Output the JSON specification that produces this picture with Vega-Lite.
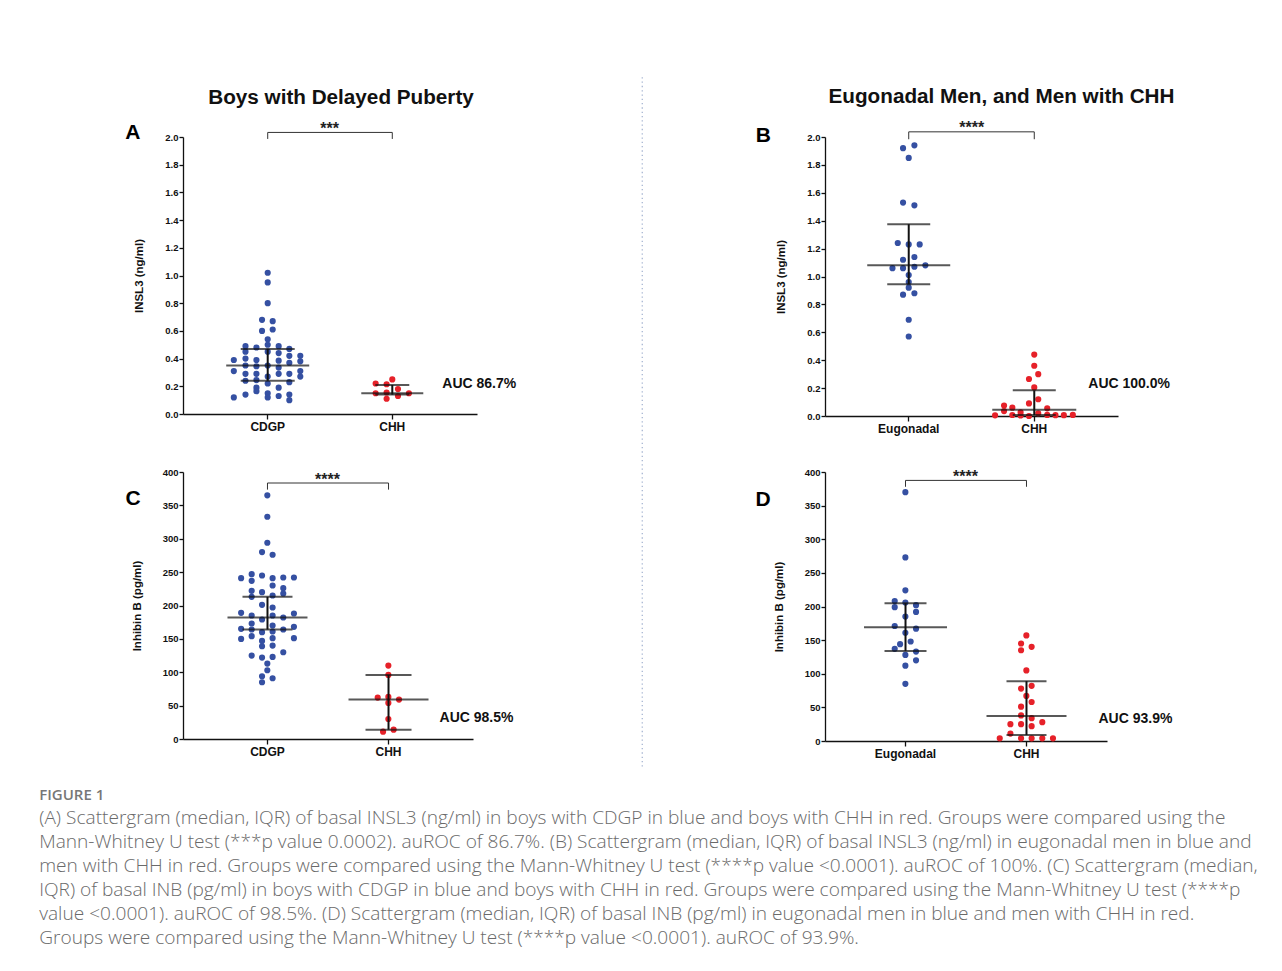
{
  "$schema": "https://vega.github.io/schema/vega-lite/v6.json",
  "padding": {"left": 39, "top": 76, "right": 10, "bottom": 10},
  "background": "white",
  "datasets": {
    "points": [
      {"panel":"A","group":"CDGP","jitter":0,"value":1.02},{"panel":"A","group":"CDGP","jitter":0,"value":0.95},{"panel":"A","group":"CDGP","jitter":0,"value":0.80},
      {"panel":"A","group":"CDGP","jitter":-0.57,"value":0.68},{"panel":"A","group":"CDGP","jitter":0.5,"value":0.67},{"panel":"A","group":"CDGP","jitter":-0.57,"value":0.60},
      {"panel":"A","group":"CDGP","jitter":0.5,"value":0.61},{"panel":"A","group":"CDGP","jitter":0,"value":0.54},{"panel":"A","group":"CDGP","jitter":-2.23,"value":0.49},
      {"panel":"A","group":"CDGP","jitter":-1.13,"value":0.48},{"panel":"A","group":"CDGP","jitter":0,"value":0.50},{"panel":"A","group":"CDGP","jitter":1.1,"value":0.49},
      {"panel":"A","group":"CDGP","jitter":2.17,"value":0.47},{"panel":"A","group":"CDGP","jitter":-2.23,"value":0.45},{"panel":"A","group":"CDGP","jitter":1.1,"value":0.44},
      {"panel":"A","group":"CDGP","jitter":0,"value":0.45},{"panel":"A","group":"CDGP","jitter":2.17,"value":0.42},{"panel":"A","group":"CDGP","jitter":3.27,"value":0.42},
      {"panel":"A","group":"CDGP","jitter":-2.23,"value":0.40},{"panel":"A","group":"CDGP","jitter":-1.13,"value":0.39},{"panel":"A","group":"CDGP","jitter":-3.4,"value":0.39},
      {"panel":"A","group":"CDGP","jitter":1.1,"value":0.385},{"panel":"A","group":"CDGP","jitter":3.27,"value":0.38},{"panel":"A","group":"CDGP","jitter":2.17,"value":0.37},
      {"panel":"A","group":"CDGP","jitter":-2.23,"value":0.35},{"panel":"A","group":"CDGP","jitter":-1.13,"value":0.345},{"panel":"A","group":"CDGP","jitter":0,"value":0.35},
      {"panel":"A","group":"CDGP","jitter":1.1,"value":0.335},{"panel":"A","group":"CDGP","jitter":-3.4,"value":0.31},{"panel":"A","group":"CDGP","jitter":3.27,"value":0.31},
      {"panel":"A","group":"CDGP","jitter":-2.23,"value":0.29},{"panel":"A","group":"CDGP","jitter":-1.13,"value":0.29},{"panel":"A","group":"CDGP","jitter":1.1,"value":0.29},
      {"panel":"A","group":"CDGP","jitter":2.17,"value":0.29},{"panel":"A","group":"CDGP","jitter":-1.13,"value":0.245},{"panel":"A","group":"CDGP","jitter":0,"value":0.27},
      {"panel":"A","group":"CDGP","jitter":3.27,"value":0.27},{"panel":"A","group":"CDGP","jitter":-2.23,"value":0.24},{"panel":"A","group":"CDGP","jitter":0,"value":0.22},
      {"panel":"A","group":"CDGP","jitter":2.17,"value":0.23},{"panel":"A","group":"CDGP","jitter":-1.13,"value":0.19},{"panel":"A","group":"CDGP","jitter":1.1,"value":0.19},
      {"panel":"A","group":"CDGP","jitter":-1.13,"value":0.165},{"panel":"A","group":"CDGP","jitter":0,"value":0.15},{"panel":"A","group":"CDGP","jitter":-2.23,"value":0.14},
      {"panel":"A","group":"CDGP","jitter":2.17,"value":0.14},{"panel":"A","group":"CDGP","jitter":1.1,"value":0.13},{"panel":"A","group":"CDGP","jitter":-3.4,"value":0.12},
      {"panel":"A","group":"CDGP","jitter":0,"value":0.12},{"panel":"A","group":"CDGP","jitter":2.17,"value":0.10},
      {"panel":"A","group":"CHH","jitter":0,"value":0.25},{"panel":"A","group":"CHH","jitter":-1.67,"value":0.22},{"panel":"A","group":"CHH","jitter":-0.57,"value":0.215},
      {"panel":"A","group":"CHH","jitter":0.57,"value":0.18},{"panel":"A","group":"CHH","jitter":-1.67,"value":0.15},{"panel":"A","group":"CHH","jitter":-0.57,"value":0.155},
      {"panel":"A","group":"CHH","jitter":1.67,"value":0.15},{"panel":"A","group":"CHH","jitter":0.57,"value":0.13},{"panel":"A","group":"CHH","jitter":-0.57,"value":0.11},

      {"panel":"B","group":"Eugonadal","jitter":-0.57,"value":1.92},{"panel":"B","group":"Eugonadal","jitter":0.57,"value":1.94},{"panel":"B","group":"Eugonadal","jitter":0,"value":1.85},
      {"panel":"B","group":"Eugonadal","jitter":-0.57,"value":1.53},{"panel":"B","group":"Eugonadal","jitter":0.57,"value":1.51},{"panel":"B","group":"Eugonadal","jitter":-1.1,"value":1.24},
      {"panel":"B","group":"Eugonadal","jitter":0,"value":1.23},{"panel":"B","group":"Eugonadal","jitter":1.1,"value":1.23},{"panel":"B","group":"Eugonadal","jitter":-0.57,"value":1.12},
      {"panel":"B","group":"Eugonadal","jitter":0.57,"value":1.14},{"panel":"B","group":"Eugonadal","jitter":-1.63,"value":1.06},{"panel":"B","group":"Eugonadal","jitter":-0.57,"value":1.06},
      {"panel":"B","group":"Eugonadal","jitter":0.57,"value":1.07},{"panel":"B","group":"Eugonadal","jitter":1.67,"value":1.08},{"panel":"B","group":"Eugonadal","jitter":0,"value":1.01},
      {"panel":"B","group":"Eugonadal","jitter":0,"value":0.96},{"panel":"B","group":"Eugonadal","jitter":0,"value":0.92},{"panel":"B","group":"Eugonadal","jitter":-0.57,"value":0.87},
      {"panel":"B","group":"Eugonadal","jitter":0.57,"value":0.88},{"panel":"B","group":"Eugonadal","jitter":0,"value":0.69},{"panel":"B","group":"Eugonadal","jitter":0,"value":0.57},
      {"panel":"B","group":"CHH","jitter":0,"value":0.44},{"panel":"B","group":"CHH","jitter":0,"value":0.36},{"panel":"B","group":"CHH","jitter":0.4,"value":0.30},
      {"panel":"B","group":"CHH","jitter":-0.53,"value":0.265},{"panel":"B","group":"CHH","jitter":0,"value":0.205},{"panel":"B","group":"CHH","jitter":0.4,"value":0.12},
      {"panel":"B","group":"CHH","jitter":-0.53,"value":0.09},{"panel":"B","group":"CHH","jitter":-3.03,"value":0.075},{"panel":"B","group":"CHH","jitter":-2.2,"value":0.06},
      {"panel":"B","group":"CHH","jitter":1.3,"value":0.055},{"panel":"B","group":"CHH","jitter":-3.03,"value":0.035},{"panel":"B","group":"CHH","jitter":-1.37,"value":0.026},
      {"panel":"B","group":"CHH","jitter":0.4,"value":0.02},{"panel":"B","group":"CHH","jitter":-3.93,"value":0.005},{"panel":"B","group":"CHH","jitter":-2.2,"value":0.007},
      {"panel":"B","group":"CHH","jitter":-0.53,"value":0.0},{"panel":"B","group":"CHH","jitter":-1.37,"value":0.004},{"panel":"B","group":"CHH","jitter":1.3,"value":0.008},
      {"panel":"B","group":"CHH","jitter":2.13,"value":0.006},{"panel":"B","group":"CHH","jitter":2.97,"value":0.006},{"panel":"B","group":"CHH","jitter":3.87,"value":0.008},

      {"panel":"C","group":"CDGP","jitter":0,"value":365},{"panel":"C","group":"CDGP","jitter":0,"value":333},{"panel":"C","group":"CDGP","jitter":0,"value":294},
      {"panel":"C","group":"CDGP","jitter":-0.53,"value":280},{"panel":"C","group":"CDGP","jitter":0.53,"value":276},{"panel":"C","group":"CDGP","jitter":-2.63,"value":241},
      {"panel":"C","group":"CDGP","jitter":-1.57,"value":247},{"panel":"C","group":"CDGP","jitter":-0.53,"value":245},{"panel":"C","group":"CDGP","jitter":0.53,"value":241},
      {"panel":"C","group":"CDGP","jitter":1.6,"value":242},{"panel":"C","group":"CDGP","jitter":2.67,"value":242},{"panel":"C","group":"CDGP","jitter":-1.57,"value":237},
      {"panel":"C","group":"CDGP","jitter":-1.57,"value":222},{"panel":"C","group":"CDGP","jitter":-0.53,"value":220},{"panel":"C","group":"CDGP","jitter":0.53,"value":230},
      {"panel":"C","group":"CDGP","jitter":1.6,"value":226},{"panel":"C","group":"CDGP","jitter":1.6,"value":218},{"panel":"C","group":"CDGP","jitter":-1.57,"value":213},
      {"panel":"C","group":"CDGP","jitter":0.53,"value":215},{"panel":"C","group":"CDGP","jitter":-0.53,"value":201},{"panel":"C","group":"CDGP","jitter":0.53,"value":197},
      {"panel":"C","group":"CDGP","jitter":-2.63,"value":189},{"panel":"C","group":"CDGP","jitter":2.67,"value":188},{"panel":"C","group":"CDGP","jitter":-1.57,"value":185},
      {"panel":"C","group":"CDGP","jitter":0.53,"value":185},{"panel":"C","group":"CDGP","jitter":1.6,"value":182},{"panel":"C","group":"CDGP","jitter":-0.53,"value":179},
      {"panel":"C","group":"CDGP","jitter":-1.57,"value":173},{"panel":"C","group":"CDGP","jitter":0.53,"value":170},{"panel":"C","group":"CDGP","jitter":2.67,"value":168},
      {"panel":"C","group":"CDGP","jitter":-2.63,"value":165},{"panel":"C","group":"CDGP","jitter":-1.57,"value":164},{"panel":"C","group":"CDGP","jitter":1.6,"value":164},
      {"panel":"C","group":"CDGP","jitter":-0.53,"value":160},{"panel":"C","group":"CDGP","jitter":0.53,"value":161},{"panel":"C","group":"CDGP","jitter":-2.63,"value":150},
      {"panel":"C","group":"CDGP","jitter":-1.57,"value":154},{"panel":"C","group":"CDGP","jitter":0.53,"value":151},{"panel":"C","group":"CDGP","jitter":2.67,"value":151},
      {"panel":"C","group":"CDGP","jitter":-0.53,"value":147},{"panel":"C","group":"CDGP","jitter":-0.53,"value":139},{"panel":"C","group":"CDGP","jitter":0.53,"value":140},
      {"panel":"C","group":"CDGP","jitter":1.6,"value":130},{"panel":"C","group":"CDGP","jitter":-1.57,"value":125},{"panel":"C","group":"CDGP","jitter":-0.53,"value":122},
      {"panel":"C","group":"CDGP","jitter":0.53,"value":123},{"panel":"C","group":"CDGP","jitter":0,"value":113},{"panel":"C","group":"CDGP","jitter":0,"value":103},
      {"panel":"C","group":"CDGP","jitter":-0.53,"value":94},{"panel":"C","group":"CDGP","jitter":0.53,"value":91},{"panel":"C","group":"CDGP","jitter":-0.53,"value":85},
      {"panel":"C","group":"CHH","jitter":0,"value":110},{"panel":"C","group":"CHH","jitter":0,"value":96},{"panel":"C","group":"CHH","jitter":-1.07,"value":62},
      {"panel":"C","group":"CHH","jitter":0,"value":63},{"panel":"C","group":"CHH","jitter":1.07,"value":59},{"panel":"C","group":"CHH","jitter":0,"value":54},
      {"panel":"C","group":"CHH","jitter":0,"value":30},{"panel":"C","group":"CHH","jitter":-0.53,"value":11},{"panel":"C","group":"CHH","jitter":0.53,"value":14},

      {"panel":"D","group":"Eugonadal","jitter":0,"value":370},{"panel":"D","group":"Eugonadal","jitter":0,"value":273},{"panel":"D","group":"Eugonadal","jitter":0,"value":224},
      {"panel":"D","group":"Eugonadal","jitter":-1.07,"value":208},{"panel":"D","group":"Eugonadal","jitter":0,"value":206},{"panel":"D","group":"Eugonadal","jitter":1.07,"value":202},
      {"panel":"D","group":"Eugonadal","jitter":-1.07,"value":199},{"panel":"D","group":"Eugonadal","jitter":1.07,"value":192},{"panel":"D","group":"Eugonadal","jitter":0,"value":185},
      {"panel":"D","group":"Eugonadal","jitter":-1.07,"value":171},{"panel":"D","group":"Eugonadal","jitter":1.07,"value":167},{"panel":"D","group":"Eugonadal","jitter":0,"value":161},
      {"panel":"D","group":"Eugonadal","jitter":-0.53,"value":144},{"panel":"D","group":"Eugonadal","jitter":0.53,"value":148},{"panel":"D","group":"Eugonadal","jitter":-1.07,"value":137},
      {"panel":"D","group":"Eugonadal","jitter":1.07,"value":133},{"panel":"D","group":"Eugonadal","jitter":0,"value":128},{"panel":"D","group":"Eugonadal","jitter":1.07,"value":120},
      {"panel":"D","group":"Eugonadal","jitter":0,"value":112},{"panel":"D","group":"Eugonadal","jitter":0,"value":85},
      {"panel":"D","group":"CHH","jitter":0,"value":157},{"panel":"D","group":"CHH","jitter":-0.53,"value":145},{"panel":"D","group":"CHH","jitter":0.53,"value":140},
      {"panel":"D","group":"CHH","jitter":-0.53,"value":135},{"panel":"D","group":"CHH","jitter":0,"value":105},{"panel":"D","group":"CHH","jitter":-0.53,"value":78},
      {"panel":"D","group":"CHH","jitter":0.53,"value":82},{"panel":"D","group":"CHH","jitter":0,"value":67},{"panel":"D","group":"CHH","jitter":-0.53,"value":51},
      {"panel":"D","group":"CHH","jitter":0.53,"value":58},{"panel":"D","group":"CHH","jitter":-0.53,"value":38},{"panel":"D","group":"CHH","jitter":0.53,"value":34},
      {"panel":"D","group":"CHH","jitter":-1.6,"value":25},{"panel":"D","group":"CHH","jitter":-0.53,"value":25},{"panel":"D","group":"CHH","jitter":1.6,"value":28},
      {"panel":"D","group":"CHH","jitter":0.53,"value":22},{"panel":"D","group":"CHH","jitter":-1.6,"value":11},{"panel":"D","group":"CHH","jitter":-2.67,"value":4},
      {"panel":"D","group":"CHH","jitter":-0.53,"value":4},{"panel":"D","group":"CHH","jitter":0.53,"value":4},{"panel":"D","group":"CHH","jitter":1.6,"value":4},
      {"panel":"D","group":"CHH","jitter":2.67,"value":4}
    ],
    "summary": [
      {"panel":"A","group":"CDGP","median":0.35,"q1":0.24,"q3":0.47},
      {"panel":"A","group":"CHH","median":0.15,"q1":0.14,"q3":0.21},
      {"panel":"B","group":"Eugonadal","median":1.08,"q1":0.945,"q3":1.375},
      {"panel":"B","group":"CHH","median":0.045,"q1":0.007,"q3":0.184},
      {"panel":"C","group":"CDGP","median":182,"q1":164,"q3":213},
      {"panel":"C","group":"CHH","median":59,"q1":14,"q3":96},
      {"panel":"D","group":"Eugonadal","median":169,"q1":134,"q3":205},
      {"panel":"D","group":"CHH","median":37,"q1":9,"q3":89}
    ],
    "brackets": [
      {"panel":"A","group":"CDGP","step":1,"y":1.986},{"panel":"A","group":"CDGP","step":2,"y":2.033},{"panel":"A","group":"CHH","step":3,"y":2.033},{"panel":"A","group":"CHH","step":4,"y":1.986},
      {"panel":"B","group":"Eugonadal","step":1,"y":1.984},{"panel":"B","group":"Eugonadal","step":2,"y":2.037},{"panel":"B","group":"CHH","step":3,"y":2.037},{"panel":"B","group":"CHH","step":4,"y":1.984},
      {"panel":"C","group":"CDGP","step":1,"y":373.6},{"panel":"C","group":"CDGP","step":2,"y":383.5},{"panel":"C","group":"CHH","step":3,"y":383.5},{"panel":"C","group":"CHH","step":4,"y":373.6},
      {"panel":"D","group":"Eugonadal","step":1,"y":378},{"panel":"D","group":"Eugonadal","step":2,"y":387.5},{"panel":"D","group":"CHH","step":3,"y":387.5},{"panel":"D","group":"CHH","step":4,"y":378}
    ],
    "divider": [
      {"group":"Eugonadal","offset":-26.4,"top":987,"bottom":-38}
    ],
    "notes": [
      {"panel":"A","kind":"letter","group":"CDGP","y":2.03,"label":"A"},
      {"panel":"A","kind":"sig","group":"CDGP","y":2.024,"label":"***"},
      {"panel":"A","kind":"auc","group":"CHH","y":0.217,"label":"AUC 86.7%"},
      {"panel":"B","kind":"letter","group":"Eugonadal","y":2.01,"label":"B"},
      {"panel":"B","kind":"sig","group":"Eugonadal","y":2.031,"label":"****"},
      {"panel":"B","kind":"auc","group":"CHH","y":0.23,"label":"AUC 100.0%"},
      {"panel":"C","kind":"letter","group":"CDGP","y":359,"label":"C"},
      {"panel":"C","kind":"sig","group":"CDGP","y":380,"label":"****"},
      {"panel":"C","kind":"auc","group":"CHH","y":31,"label":"AUC 98.5%"},
      {"panel":"D","kind":"letter","group":"Eugonadal","y":358,"label":"D"},
      {"panel":"D","kind":"sig","group":"Eugonadal","y":384.5,"label":"****"},
      {"panel":"D","kind":"auc","group":"CHH","y":33,"label":"AUC 93.9%"}
    ]
  },
  "title": {
    "text": "FIGURE 1",
    "subtitle": [
      "(A) Scattergram (median, IQR) of basal INSL3 (ng/ml) in boys with CDGP in blue and boys with CHH in red. Groups were compared using the",
      "Mann-Whitney U test (***p value 0.0002). auROC of 86.7%. (B) Scattergram (median, IQR) of basal INSL3 (ng/ml) in eugonadal men in blue and",
      "men with CHH in red. Groups were compared using the Mann-Whitney U test (****p value <0.0001). auROC of 100%. (C) Scattergram (median,",
      "IQR) of basal INB (pg/ml) in boys with CDGP in blue and boys with CHH in red. Groups were compared using the Mann-Whitney U test (****p",
      "value <0.0001). auROC of 98.5%. (D) Scattergram (median, IQR) of basal INB (pg/ml) in eugonadal men in blue and men with CHH in red.",
      "Groups were compared using the Mann-Whitney U test (****p value <0.0001). auROC of 93.9%."
    ],
    "orient": "bottom",
    "anchor": "start",
    "frame": "bounds",
    "dx": -86,
    "offset": 21,
    "font": "Open Sans",
    "fontSize": 15,
    "fontWeight": 600,
    "color": "#777777",
    "subtitleFont": "Open Sans",
    "subtitleFontSize": 19.1,
    "subtitleFontWeight": 300,
    "subtitleColor": "#6a6a6a",
    "subtitleLineHeight": 24,
    "subtitlePadding": 6
  },
  "columns": 2,
  "bounds": "flush",
  "spacing": {"row": 56, "column": 348},
  "concat": [
    {
      "width": 294, "height": 277,
      "title": {"text": "Boys with Delayed Puberty", "dx": 11, "frame": "group", "offset": 12},
      "layer": [
        {"data": {"name": "points"}, "transform": [{"filter": "datum.panel === 'A'"}],
         "mark": {"type": "circle", "size": 38, "opacity": 1},
         "encoding": {
           "x": {"field": "group", "type": "nominal", "scale": {"type": "band", "domain": ["CDGP", "CHH"], "paddingInner": 0.2, "paddingOuter": 0.28}, "axis": {"title": null}},
           "xOffset": {"field": "jitter", "type": "quantitative", "scale": {"domain": [-5, 5]}},
           "y": {"field": "value", "type": "quantitative", "scale": {"domain": [0, 2], "nice": false}, "axis": {"title": "INSL3 (ng/ml)", "values": [0, 0.2, 0.4, 0.6, 0.8, 1, 1.2, 1.4, 1.6, 1.8, 2], "format": ".1f", "labelOverlap": false, "tickCount": 11}},
           "color": {"field": "group", "type": "nominal", "scale": {"domain": ["CDGP", "CHH"], "range": ["#3550a2", "#e62129"]}, "legend": null}
         }},
        {"data": {"name": "summary"}, "transform": [{"filter": "datum.panel === 'A'"}],
         "mark": {"type": "rule", "color": "#111111", "strokeWidth": 2},
         "encoding": {"x": {"field": "group", "type": "nominal"}, "y": {"field": "q1", "type": "quantitative"}, "y2": {"field": "q3"}}},
        {"data": {"name": "summary"}, "transform": [{"filter": "datum.panel === 'A'"}],
         "mark": {"type": "tick", "color": "#111111", "thickness": 2, "orient": "horizontal"},
         "encoding": {"x": {"field": "group", "type": "nominal"}, "y": {"field": "median", "type": "quantitative"},
           "size": {"field": "group", "type": "nominal", "scale": {"type": "ordinal", "domain": ["CDGP", "CHH"], "range": [83, 62]}, "legend": null}}},
        {"data": {"name": "summary"}, "transform": [{"filter": "datum.panel === 'A'"}, {"fold": ["q1", "q3"], "as": ["stat", "level"]}],
         "mark": {"type": "tick", "color": "#111111", "thickness": 2, "orient": "horizontal"},
         "encoding": {"x": {"field": "group", "type": "nominal"}, "y": {"field": "level", "type": "quantitative"},
           "size": {"field": "group", "type": "nominal", "scale": {"type": "ordinal", "domain": ["CDGP", "CHH"], "range": [54, 34]}, "legend": null}}},
        {"data": {"name": "brackets"}, "transform": [{"filter": "datum.panel === 'A'"}],
         "mark": {"type": "line", "color": "#333333", "strokeWidth": 1},
         "encoding": {"x": {"field": "group", "type": "nominal"}, "y": {"field": "y", "type": "quantitative"}, "order": {"field": "step", "type": "quantitative"}}},
        {"data": {"name": "notes"}, "transform": [{"filter": "datum.panel === 'A' && datum.kind === 'sig'"}],
         "mark": {"type": "text", "dx": 62, "fontSize": 16, "fontWeight": "bold", "align": "center", "baseline": "alphabetic", "color": "#222222"},
         "encoding": {"x": {"field": "group", "type": "nominal"}, "y": {"field": "y", "type": "quantitative"}, "text": {"field": "label"}}},
        {"data": {"name": "notes"}, "transform": [{"filter": "datum.panel === 'A' && datum.kind === 'auc'"}],
         "mark": {"type": "text", "dx": 50, "fontSize": 14, "fontWeight": "bold", "align": "left", "baseline": "middle", "color": "#111111"},
         "encoding": {"x": {"field": "group", "type": "nominal"}, "y": {"field": "y", "type": "quantitative"}, "text": {"field": "label"}}},
        {"data": {"name": "notes"}, "transform": [{"filter": "datum.panel === 'A' && datum.kind === 'letter'"}],
         "mark": {"type": "text", "dx": -142.5, "fontSize": 21, "fontWeight": "bold", "align": "left", "baseline": "middle", "color": "#000000"},
         "encoding": {"x": {"field": "group", "type": "nominal"}, "y": {"field": "y", "type": "quantitative"}, "text": {"field": "label"}}}
      ],
      "resolve": {"scale": {"size": "independent"}}
    },
    {
      "width": 293, "height": 279,
      "title": {"text": "Eugonadal Men, and Men with CHH", "dx": 30, "frame": "group", "offset": 12},
      "layer": [
        {"data": {"name": "points"}, "transform": [{"filter": "datum.panel === 'B'"}],
         "mark": {"type": "circle", "size": 38, "opacity": 1},
         "encoding": {
           "x": {"field": "group", "type": "nominal", "scale": {"type": "band", "domain": ["Eugonadal", "CHH"], "paddingInner": 0.206, "paddingOuter": 0.27}, "axis": {"title": null}},
           "xOffset": {"field": "jitter", "type": "quantitative", "scale": {"domain": [-5, 5]}},
           "y": {"field": "value", "type": "quantitative", "scale": {"domain": [0, 2], "nice": false}, "axis": {"title": "INSL3 (ng/ml)", "values": [0, 0.2, 0.4, 0.6, 0.8, 1, 1.2, 1.4, 1.6, 1.8, 2], "format": ".1f", "labelOverlap": false, "tickCount": 11}},
           "color": {"field": "group", "type": "nominal", "scale": {"domain": ["Eugonadal", "CHH"], "range": ["#3550a2", "#e62129"]}, "legend": null}
         }},
        {"data": {"name": "summary"}, "transform": [{"filter": "datum.panel === 'B'"}],
         "mark": {"type": "rule", "color": "#111111", "strokeWidth": 2},
         "encoding": {"x": {"field": "group", "type": "nominal"}, "y": {"field": "q1", "type": "quantitative"}, "y2": {"field": "q3"}}},
        {"data": {"name": "summary"}, "transform": [{"filter": "datum.panel === 'B'"}],
         "mark": {"type": "tick", "color": "#111111", "thickness": 2, "orient": "horizontal"},
         "encoding": {"x": {"field": "group", "type": "nominal"}, "y": {"field": "median", "type": "quantitative"},
           "size": {"field": "group", "type": "nominal", "scale": {"type": "ordinal", "domain": ["Eugonadal", "CHH"], "range": [83, 84]}, "legend": null}}},
        {"data": {"name": "summary"}, "transform": [{"filter": "datum.panel === 'B'"}, {"fold": ["q1", "q3"], "as": ["stat", "level"]}],
         "mark": {"type": "tick", "color": "#111111", "thickness": 2, "orient": "horizontal"},
         "encoding": {"x": {"field": "group", "type": "nominal"}, "y": {"field": "level", "type": "quantitative"},
           "size": {"field": "group", "type": "nominal", "scale": {"type": "ordinal", "domain": ["Eugonadal", "CHH"], "range": [43, 43]}, "legend": null}}},
        {"data": {"name": "brackets"}, "transform": [{"filter": "datum.panel === 'B'"}],
         "mark": {"type": "line", "color": "#333333", "strokeWidth": 1},
         "encoding": {"x": {"field": "group", "type": "nominal"}, "y": {"field": "y", "type": "quantitative"}, "order": {"field": "step", "type": "quantitative"}}},
        {"data": {"name": "notes"}, "transform": [{"filter": "datum.panel === 'B' && datum.kind === 'sig'"}],
         "mark": {"type": "text", "dx": 63, "fontSize": 16, "fontWeight": "bold", "align": "center", "baseline": "alphabetic", "color": "#222222"},
         "encoding": {"x": {"field": "group", "type": "nominal"}, "y": {"field": "y", "type": "quantitative"}, "text": {"field": "label"}}},
        {"data": {"name": "notes"}, "transform": [{"filter": "datum.panel === 'B' && datum.kind === 'auc'"}],
         "mark": {"type": "text", "dx": 54, "fontSize": 14, "fontWeight": "bold", "align": "left", "baseline": "middle", "color": "#111111"},
         "encoding": {"x": {"field": "group", "type": "nominal"}, "y": {"field": "y", "type": "quantitative"}, "text": {"field": "label"}}},
        {"data": {"name": "notes"}, "transform": [{"filter": "datum.panel === 'B' && datum.kind === 'letter'"}],
         "mark": {"type": "text", "dx": -153, "fontSize": 21, "fontWeight": "bold", "align": "left", "baseline": "middle", "color": "#000000"},
         "encoding": {"x": {"field": "group", "type": "nominal"}, "y": {"field": "y", "type": "quantitative"}, "text": {"field": "label"}}}
      ],
      "resolve": {"scale": {"size": "independent"}}
    },
    {
      "width": 290, "height": 267,
      "layer": [
        {"data": {"name": "points"}, "transform": [{"filter": "datum.panel === 'C'"}],
         "mark": {"type": "circle", "size": 38, "opacity": 1},
         "encoding": {
           "x": {"field": "group", "type": "nominal", "scale": {"type": "band", "domain": ["CDGP", "CHH"], "paddingInner": 0.174, "paddingOuter": 0.285}, "axis": {"title": null}},
           "xOffset": {"field": "jitter", "type": "quantitative", "scale": {"domain": [-5, 5]}},
           "y": {"field": "value", "type": "quantitative", "scale": {"domain": [0, 400], "nice": false}, "axis": {"title": "Inhibin B (pg/ml)", "values": [0, 50, 100, 150, 200, 250, 300, 350, 400], "labelOverlap": false, "tickCount": 9}},
           "color": {"field": "group", "type": "nominal", "scale": {"domain": ["CDGP", "CHH"], "range": ["#3550a2", "#e62129"]}, "legend": null}
         }},
        {"data": {"name": "summary"}, "transform": [{"filter": "datum.panel === 'C'"}],
         "mark": {"type": "rule", "color": "#111111", "strokeWidth": 2},
         "encoding": {"x": {"field": "group", "type": "nominal"}, "y": {"field": "q1", "type": "quantitative"}, "y2": {"field": "q3"}}},
        {"data": {"name": "summary"}, "transform": [{"filter": "datum.panel === 'C'"}],
         "mark": {"type": "tick", "color": "#111111", "thickness": 2, "orient": "horizontal"},
         "encoding": {"x": {"field": "group", "type": "nominal"}, "y": {"field": "median", "type": "quantitative"},
           "size": {"field": "group", "type": "nominal", "scale": {"type": "ordinal", "domain": ["CDGP", "CHH"], "range": [80, 80]}, "legend": null}}},
        {"data": {"name": "summary"}, "transform": [{"filter": "datum.panel === 'C'"}, {"fold": ["q1", "q3"], "as": ["stat", "level"]}],
         "mark": {"type": "tick", "color": "#111111", "thickness": 2, "orient": "horizontal"},
         "encoding": {"x": {"field": "group", "type": "nominal"}, "y": {"field": "level", "type": "quantitative"},
           "size": {"field": "group", "type": "nominal", "scale": {"type": "ordinal", "domain": ["CDGP", "CHH"], "range": [50, 46]}, "legend": null}}},
        {"data": {"name": "brackets"}, "transform": [{"filter": "datum.panel === 'C'"}],
         "mark": {"type": "line", "color": "#333333", "strokeWidth": 1},
         "encoding": {"x": {"field": "group", "type": "nominal"}, "y": {"field": "y", "type": "quantitative"}, "order": {"field": "step", "type": "quantitative"}}},
        {"data": {"name": "notes"}, "transform": [{"filter": "datum.panel === 'C' && datum.kind === 'sig'"}],
         "mark": {"type": "text", "dx": 60, "fontSize": 16, "fontWeight": "bold", "align": "center", "baseline": "alphabetic", "color": "#222222"},
         "encoding": {"x": {"field": "group", "type": "nominal"}, "y": {"field": "y", "type": "quantitative"}, "text": {"field": "label"}}},
        {"data": {"name": "notes"}, "transform": [{"filter": "datum.panel === 'C' && datum.kind === 'auc'"}],
         "mark": {"type": "text", "dx": 51, "fontSize": 14, "fontWeight": "bold", "align": "left", "baseline": "middle", "color": "#111111"},
         "encoding": {"x": {"field": "group", "type": "nominal"}, "y": {"field": "y", "type": "quantitative"}, "text": {"field": "label"}}},
        {"data": {"name": "notes"}, "transform": [{"filter": "datum.panel === 'C' && datum.kind === 'letter'"}],
         "mark": {"type": "text", "dx": -142, "fontSize": 21, "fontWeight": "bold", "align": "left", "baseline": "middle", "color": "#000000"},
         "encoding": {"x": {"field": "group", "type": "nominal"}, "y": {"field": "y", "type": "quantitative"}, "text": {"field": "label"}}}
      ],
      "resolve": {"scale": {"size": "independent"}}
    },
    {
      "width": 282, "height": 269,
      "layer": [
        {"data": {"name": "points"}, "transform": [{"filter": "datum.panel === 'D'"}],
         "mark": {"type": "circle", "size": 38, "opacity": 1},
         "encoding": {
           "x": {"field": "group", "type": "nominal", "scale": {"type": "band", "domain": ["Eugonadal", "CHH"], "paddingInner": 0.174, "paddingOuter": 0.2525}, "axis": {"title": null}},
           "xOffset": {"field": "jitter", "type": "quantitative", "scale": {"domain": [-5, 5]}},
           "y": {"field": "value", "type": "quantitative", "scale": {"domain": [0, 400], "nice": false}, "axis": {"title": "Inhibin B (pg/ml)", "values": [0, 50, 100, 150, 200, 250, 300, 350, 400], "labelOverlap": false, "tickCount": 9}},
           "color": {"field": "group", "type": "nominal", "scale": {"domain": ["Eugonadal", "CHH"], "range": ["#3550a2", "#e62129"]}, "legend": null}
         }},
        {"data": {"name": "divider"},
         "mark": {"type": "rule", "color": "#a7b6d2", "strokeWidth": 1.3, "strokeDash": [1.3, 3]},
         "encoding": {"x": {"field": "group", "type": "nominal"}, "xOffset": {"field": "offset", "type": "quantitative"}, "y": {"field": "top", "type": "quantitative"}, "y2": {"field": "bottom"}}},
        {"data": {"name": "summary"}, "transform": [{"filter": "datum.panel === 'D'"}],
         "mark": {"type": "rule", "color": "#111111", "strokeWidth": 2},
         "encoding": {"x": {"field": "group", "type": "nominal"}, "y": {"field": "q1", "type": "quantitative"}, "y2": {"field": "q3"}}},
        {"data": {"name": "summary"}, "transform": [{"filter": "datum.panel === 'D'"}],
         "mark": {"type": "tick", "color": "#111111", "thickness": 2, "orient": "horizontal"},
         "encoding": {"x": {"field": "group", "type": "nominal"}, "y": {"field": "median", "type": "quantitative"},
           "size": {"field": "group", "type": "nominal", "scale": {"type": "ordinal", "domain": ["Eugonadal", "CHH"], "range": [83, 80]}, "legend": null}}},
        {"data": {"name": "summary"}, "transform": [{"filter": "datum.panel === 'D'"}, {"fold": ["q1", "q3"], "as": ["stat", "level"]}],
         "mark": {"type": "tick", "color": "#111111", "thickness": 2, "orient": "horizontal"},
         "encoding": {"x": {"field": "group", "type": "nominal"}, "y": {"field": "level", "type": "quantitative"},
           "size": {"field": "group", "type": "nominal", "scale": {"type": "ordinal", "domain": ["Eugonadal", "CHH"], "range": [42, 40]}, "legend": null}}},
        {"data": {"name": "brackets"}, "transform": [{"filter": "datum.panel === 'D'"}],
         "mark": {"type": "line", "color": "#333333", "strokeWidth": 1},
         "encoding": {"x": {"field": "group", "type": "nominal"}, "y": {"field": "y", "type": "quantitative"}, "order": {"field": "step", "type": "quantitative"}}},
        {"data": {"name": "notes"}, "transform": [{"filter": "datum.panel === 'D' && datum.kind === 'sig'"}],
         "mark": {"type": "text", "dx": 60, "fontSize": 16, "fontWeight": "bold", "align": "center", "baseline": "alphabetic", "color": "#222222"},
         "encoding": {"x": {"field": "group", "type": "nominal"}, "y": {"field": "y", "type": "quantitative"}, "text": {"field": "label"}}},
        {"data": {"name": "notes"}, "transform": [{"filter": "datum.panel === 'D' && datum.kind === 'auc'"}],
         "mark": {"type": "text", "dx": 72, "fontSize": 14, "fontWeight": "bold", "align": "left", "baseline": "middle", "color": "#111111"},
         "encoding": {"x": {"field": "group", "type": "nominal"}, "y": {"field": "y", "type": "quantitative"}, "text": {"field": "label"}}},
        {"data": {"name": "notes"}, "transform": [{"filter": "datum.panel === 'D' && datum.kind === 'letter'"}],
         "mark": {"type": "text", "dx": -150, "fontSize": 21, "fontWeight": "bold", "align": "left", "baseline": "middle", "color": "#000000"},
         "encoding": {"x": {"field": "group", "type": "nominal"}, "y": {"field": "y", "type": "quantitative"}, "text": {"field": "label"}}}
      ],
      "resolve": {"scale": {"size": "independent"}}
    }
  ],
  "config": {
    "font": "Liberation Sans",
    "view": {"stroke": null},
    "title": {"font": "Liberation Sans", "fontSize": 20.7, "fontWeight": "bold", "color": "#111111"},
    "axis": {"labelFont": "Liberation Sans", "labelFontWeight": "bold", "labelColor": "#111111", "domainColor": "#111111", "tickColor": "#111111", "grid": false, "titleFont": "Liberation Sans", "titleFontWeight": "bold", "titleColor": "#111111", "domainWidth": 1.3, "tickWidth": 1.3},
    "axisX": {"labelAngle": 0, "labelFontSize": 12, "tickSize": 5, "labelPadding": 2},
    "axisY": {"labelFontSize": 9.5, "tickSize": 4, "labelPadding": 1, "labelOverlap": false, "titleFontSize": 11.5, "titlePadding": 20}
  }
}
